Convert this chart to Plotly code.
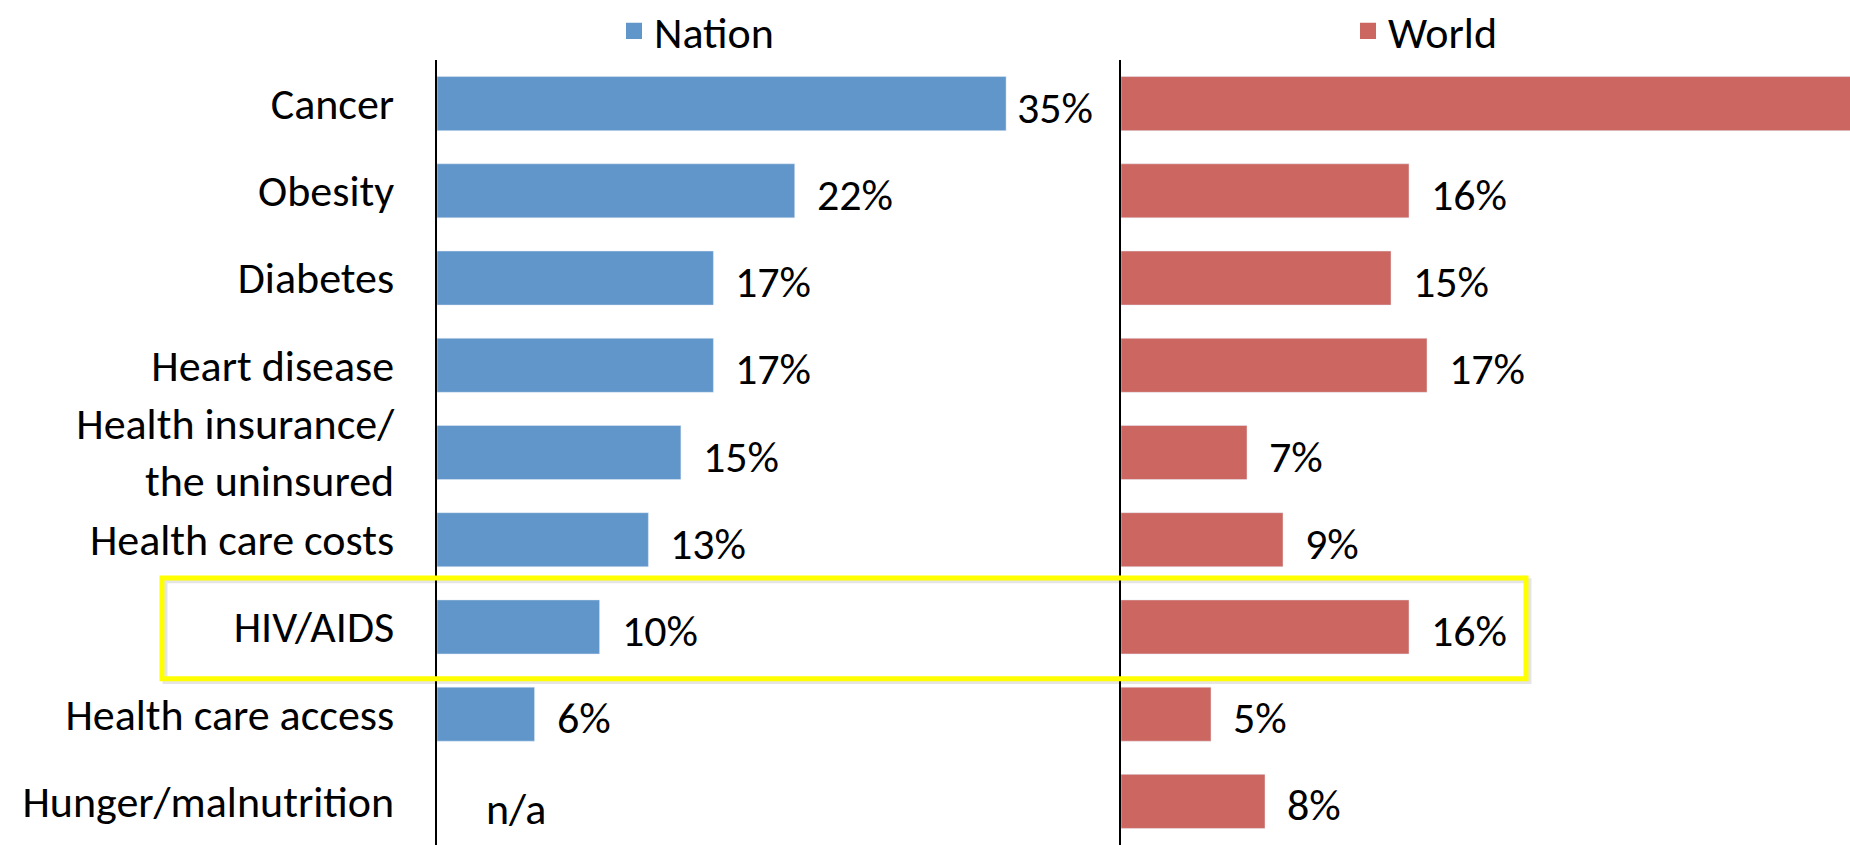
import plotly.graph_objects as go

categories = ["Cancer", "Obesity", "Diabetes", "Heart disease", "Health insurance/<br>the uninsured",
              "Health care costs", "HIV/AIDS", "Health care access", "Hunger/malnutrition"]
nation = [35, 22, 17, 17, 15, 13, 10, 6, None]
world = [42, 16, 15, 17, 7, 9, 16, 5, 8]
nation_labels = ["35%", "22%", "17%", "17%", "15%", "13%", "10%", "6%", "n/a"]
world_labels = ["42%", "16%", "15%", "17%", "7%", "9%", "16%", "5%", "8%"]
highlight = "HIV/AIDS"

BLUE = "#6096CA"
RED = "#CC6660"
FONT = "Carlito, Lato, Liberation Sans, sans-serif"
FS = 44
W, H = 1850, 845

fig = go.Figure()
fig.add_trace(go.Bar(y=categories, x=nation, orientation="h", name="Nation", showlegend=False,
                     marker=dict(color=BLUE), xaxis="x", yaxis="y"))
fig.add_trace(go.Bar(y=categories, x=world, orientation="h", name="World", showlegend=False,
                     marker=dict(color=RED), xaxis="x2", yaxis="y2"))
# legend entries (square swatches)
fig.add_trace(go.Scatter(x=[None], y=[None], mode="markers", name="Nation", legend="legend",
                         marker=dict(symbol="square", size=20, color=BLUE), xaxis="x", yaxis="y"))
fig.add_trace(go.Scatter(x=[None], y=[None], mode="markers", name="World", legend="legend2",
                         marker=dict(symbol="square", size=20, color=RED), xaxis="x2", yaxis="y2"))

annotations = []
nmax = max(v for v in nation if v is not None)
for cat, v, lab in zip(categories, nation, nation_labels):
    if v is None:
        annotations.append(dict(x=0, y=cat, xref="x", yref="y", text=lab, showarrow=False,
                                xanchor="left", xshift=47, yshift=-8,
                                font=dict(size=FS, family=FONT, color="black")))
    else:
        annotations.append(dict(x=v, y=cat, xref="x", yref="y", text=lab, showarrow=False,
                                xanchor="left", xshift=9 if v == nmax else 20, yshift=-4,
                                font=dict(size=FS, family=FONT, color="black")))
for cat, v, lab in zip(categories, world, world_labels):
    annotations.append(dict(x=v, y=cat, xref="x2", yref="y2", text=lab, showarrow=False,
                            xanchor="left", xshift=20, yshift=-4,
                            font=dict(size=FS, family=FONT, color="black")))

hi = categories.index(highlight)
shapes = [
    dict(type="rect", xref="paper", yref="y", x0=165 / W, x1=1529 / W, y0=hi - 0.53, y1=hi + 0.625,
         line=dict(color="rgba(0,0,0,0.10)", width=5), layer="below"),
    dict(type="rect", xref="paper", yref="y", x0=162 / W, x1=1526 / W, y0=hi - 0.56, y1=hi + 0.595,
         line=dict(color="#FFFF00", width=5), layer="above"),
]

fig.update_layout(
    width=W, height=H,
    margin=dict(l=0, r=0, t=0, b=0, autoexpand=False),
    paper_bgcolor="white", plot_bgcolor="white",
    font=dict(family=FONT, size=FS, color="black"),
    showlegend=True,
    bargap=0.38,
    xaxis=dict(domain=[437 / W, 1110 / W], range=[0, 673 / 16.26], visible=False, fixedrange=True),
    xaxis2=dict(domain=[1121 / W, 1.0], range=[0, 729 / 18.0], visible=False, fixedrange=True),
    yaxis=dict(domain=[0, 785 / H], anchor="x", categoryorder="array", categoryarray=categories,
               autorange="reversed", showline=True, linecolor="black", linewidth=2, automargin=False,
               showgrid=False, zeroline=False, ticks="", ticklabelstandoff=32,
               tickfont=dict(size=FS, family=FONT, color="black")),
    yaxis2=dict(domain=[0, 785 / H], anchor="x2", matches="y", showline=True, linecolor="black",
                linewidth=2, showgrid=False, zeroline=False, showticklabels=False, ticks="",
                automargin=False),
    legend=dict(x=614 / W, y=1.005, xanchor="left", yanchor="top", bgcolor="rgba(0,0,0,0)",
                font=dict(size=FS, family=FONT), orientation="h", itemsizing="trace"),
    legend2=dict(x=1348 / W, y=1.005, xanchor="left", yanchor="top", bgcolor="rgba(0,0,0,0)",
                 font=dict(size=FS, family=FONT), orientation="h", itemsizing="trace"),
    annotations=annotations,
    shapes=shapes,
)

fig.write_html("out.html", post_script="document.body.style.margin='0';",
               config={"displayModeBar": False})
